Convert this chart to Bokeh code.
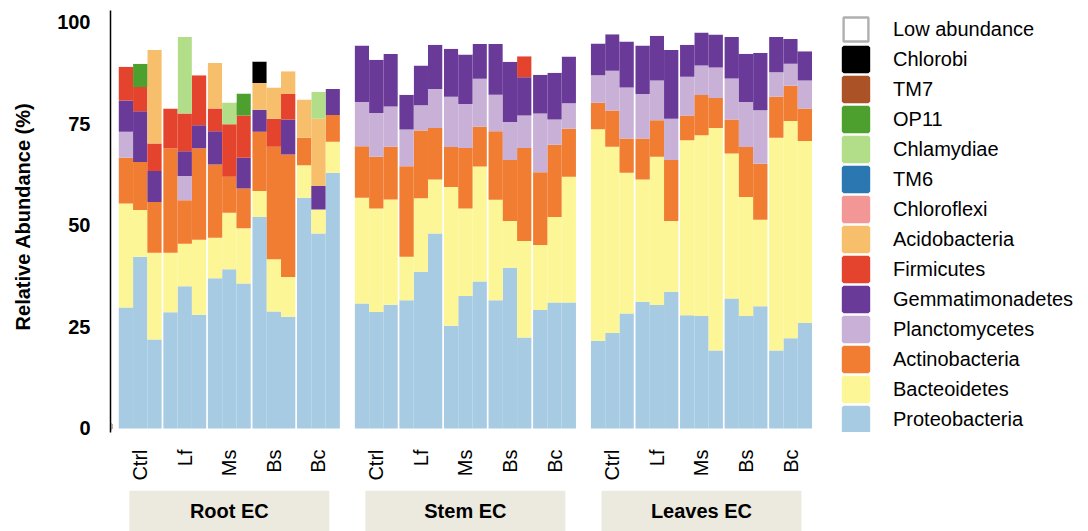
import math

from bokeh.core.properties import value
from bokeh.embed import file_html
from bokeh.layouts import column
from bokeh.models import ColumnDataSource, FixedTicker, Legend, LegendItem, Range1d
from bokeh.plotting import figure
from bokeh.resources import INLINE

# ---- data: relative abundance (%) per phylum, 45 bars = 3 tissues x 5 treatments x 3 replicates
groups = ["Root EC", "Stem EC", "Leaves EC"]
treatments = ["Ctrl", "Lf", "Ms", "Bs", "Bc"]
replicates = 3
y_ticks = [0, 25, 50, 75, 100]

proteobacteria = [
    29.8, 42.3, 21.9, 28.6, 35.0, 28.0, 37.0, 39.2, 35.7, 52.1, 28.8, 27.5, 56.8, 48.0, 63.0,
    30.8, 28.7, 30.5, 31.6, 38.6, 48.0, 25.3, 32.6, 36.2, 31.6, 39.6, 22.4, 29.2, 31.0, 31.0,
    21.6, 23.5, 28.3, 31.2, 30.4, 33.7, 27.9, 27.7, 19.2, 32.0, 27.7, 30.1, 19.2, 22.2, 26.0,
]
bacteroidetes = [
    25.6, 11.5, 21.4, 14.7, 10.5, 18.5, 10.0, 13.9, 13.6, 6.4, 12.9, 9.8, 8.0, 5.9, 7.6,
    26.0, 25.5, 25.9, 10.7, 18.1, 13.3, 34.2, 21.6, 28.3, 24.7, 11.5, 23.8, 16.0, 21.1, 31.0,
    52.1, 45.9, 34.7, 30.1, 36.5, 17.4, 43.1, 44.5, 54.8, 35.7, 29.3, 21.3, 52.4, 53.5, 44.8,
]
actinobacteria = [
    11.3, 11.8, 12.5, 25.7, 10.7, 22.5, 18.0, 8.9, 9.8, 14.6, 27.7, 30.2, 6.8, 0.0, 6.6,
    12.7, 12.7, 13.0, 22.3, 16.7, 12.7, 9.8, 14.9, 9.8, 16.9, 15.0, 22.9, 17.9, 17.8, 11.8,
    6.5, 8.9, 8.4, 10.1, 9.0, 15.0, 6.1, 9.9, 7.4, 8.4, 12.3, 13.8, 10.1, 8.7, 8.0,
]
planctomycetes = [
    6.4, 0.0, 0.0, 0.0, 6.0, 0.0, 0.0, 0.0, 0.0, 0.0, 0.0, 0.0, 0.0, 0.0, 0.0,
    10.9, 10.8, 9.9, 9.0, 6.2, 9.6, 12.4, 10.8, 11.8, 9.0, 9.4, 8.0, 14.5, 6.2, 6.3,
    6.8, 9.8, 12.6, 11.0, 9.8, 10.2, 9.5, 7.3, 7.5, 10.1, 11.1, 13.2, 6.0, 5.4, 6.9,
]
gemmatimonadetes = [
    7.7, 12.5, 7.6, 0.0, 6.1, 5.7, 8.2, 0.0, 7.6, 5.4, 0.0, 8.6, 0.0, 5.8, 6.4,
    13.9, 13.1, 12.9, 8.6, 9.8, 10.9, 11.8, 12.2, 8.6, 12.5, 14.8, 9.4, 9.5, 11.5, 11.5,
    7.8, 9.0, 11.3, 11.9, 11.0, 16.9, 7.9, 8.1, 8.1, 10.2, 11.9, 14.1, 8.7, 6.1, 7.2,
]
firmicutes = [
    8.3, 6.0, 6.8, 9.8, 9.3, 12.3, 5.6, 12.9, 10.4, 0.0, 6.9, 6.3, 0.0, 0.0, 0.0,
    0.0, 0.0, 0.0, 0.0, 0.0, 0.0, 0.0, 0.0, 0.0, 0.0, 0.0, 5.2, 0.0, 0.0, 0.0,
    0.0, 0.0, 0.0, 0.0, 0.0, 0.0, 0.0, 0.0, 0.0, 0.0, 0.0, 0.0, 0.0, 0.0, 0.0,
]
acidobacteria = [
    0.0, 0.0, 23.0, 0.0, 0.0, 0.0, 11.2, 0.0, 0.0, 6.6, 7.7, 5.6, 9.4, 16.6, 0.0,
    0.0, 0.0, 0.0, 0.0, 0.0, 0.0, 0.0, 0.0, 0.0, 0.0, 0.0, 0.0, 0.0, 0.0, 0.0,
    0.0, 0.0, 0.0, 0.0, 0.0, 0.0, 0.0, 0.0, 0.0, 0.0, 0.0, 0.0, 0.0, 0.0, 0.0,
]
chloroflexi = [0.0] * 45
tm6 = [0.0] * 45
chlamydiae = [
    0.0, 0.0, 0.0, 0.0, 18.8, 0.0, 0.0, 5.4, 0.0, 0.0, 0.0, 0.0, 0.0, 6.6, 0.0,
    0.0, 0.0, 0.0, 0.0, 0.0, 0.0, 0.0, 0.0, 0.0, 0.0, 0.0, 0.0, 0.0, 0.0, 0.0,
    0.0, 0.0, 0.0, 0.0, 0.0, 0.0, 0.0, 0.0, 0.0, 0.0, 0.0, 0.0, 0.0, 0.0, 0.0,
]
op11 = [
    0.0, 5.7, 0.0, 0.0, 0.0, 0.0, 0.0, 0.0, 5.4, 0.0, 0.0, 0.0, 0.0, 0.0, 0.0,
    0.0, 0.0, 0.0, 0.0, 0.0, 0.0, 0.0, 0.0, 0.0, 0.0, 0.0, 0.0, 0.0, 0.0, 0.0,
    0.0, 0.0, 0.0, 0.0, 0.0, 0.0, 0.0, 0.0, 0.0, 0.0, 0.0, 0.0, 0.0, 0.0, 0.0,
]
tm7 = [0.0] * 45
chlorobi = [
    0.0, 0.0, 0.0, 0.0, 0.0, 0.0, 0.0, 0.0, 0.0, 5.3, 0.0, 0.0, 0.0, 0.0, 0.0,
    0.0, 0.0, 0.0, 0.0, 0.0, 0.0, 0.0, 0.0, 0.0, 0.0, 0.0, 0.0, 0.0, 0.0, 0.0,
    0.0, 0.0, 0.0, 0.0, 0.0, 0.0, 0.0, 0.0, 0.0, 0.0, 0.0, 0.0, 0.0, 0.0, 0.0,
]

# stacking order, bottom to top
phyla = [
    ("Proteobacteria", proteobacteria, "#a6cbe3"),
    ("Bacteoidetes", bacteroidetes, "#fcf696"),
    ("Actinobacteria", actinobacteria, "#f07d32"),
    ("Planctomycetes", planctomycetes, "#c9b0d6"),
    ("Gemmatimonadetes", gemmatimonadetes, "#6a3a99"),
    ("Firmicutes", firmicutes, "#e4432d"),
    ("Acidobacteria", acidobacteria, "#f7be6c"),
    ("Chloroflexi", chloroflexi, "#f29696"),
    ("TM6", tm6, "#2a77b1"),
    ("Chlamydiae", chlamydiae, "#b2de8a"),
    ("OP11", op11, "#4ea02e"),
    ("TM7", tm7, "#ab5327"),
    ("Chlorobi", chlorobi, "#000000"),
]
# whatever is not assigned to a listed phylum is the low-abundance remainder
low_abundance = [round(100 - sum(p[1][i] for p in phyla), 1) for i in range(45)]
phyla.append(("Low abundance", low_abundance, "#ffffff"))

# ---- bar positions: replicates touch, thin gaps between treatments, wider gaps between tissues
BAR_W = 1.0
SEP = 0.12
GAP = 1.05
n_t = len(treatments)
group_w = n_t * replicates * BAR_W + (n_t - 1) * SEP

xs, tick_pos, tick_lab, group_lo, group_hi = [], [], {}, [], []
for g in range(len(groups)):
    g0 = g * (group_w + GAP)
    group_lo.append(g0)
    group_hi.append(g0 + group_w)
    for t, name in enumerate(treatments):
        t0 = g0 + t * (replicates * BAR_W + SEP)
        for r in range(replicates):
            xs.append(t0 + (r + 0.5) * BAR_W)
        c = round(t0 + replicates * BAR_W / 2, 3)
        tick_pos.append(c)
        tick_lab[c] = name

data = {"x": xs}
for name, vals, _ in phyla:
    data[name] = vals
src = ColumnDataSource(data)

FONT = "Liberation Sans"
x_range = Range1d(-0.58, 67.9)

p = figure(
    width=1088, height=490, x_range=x_range, y_range=Range1d(-0.99, 105.4),
    toolbar_location=None, output_backend="svg",
    min_border_left=110, min_border_right=0, min_border_top=0, min_border_bottom=58,
)
p.outline_line_color = None
p.xgrid.visible = False
p.ygrid.visible = False

names = [n for n, _, _ in phyla]
colors = [c for _, _, c in phyla]
renderers = p.vbar_stack(names, x="x", width=BAR_W, fill_color=colors,
                         line_color=None, source=src)

# y axis
p.yaxis.ticker = FixedTicker(ticks=y_ticks, minor_ticks=[])
p.yaxis.bounds = (-1, 103)
p.yaxis.axis_line_color = "black"
p.yaxis.axis_line_width = 1.5
p.yaxis.major_tick_out = 0
p.yaxis.major_tick_in = 0
p.yaxis.minor_tick_out = 0
p.yaxis.minor_tick_in = 0
p.yaxis.major_label_standoff = 20
p.yaxis.major_label_text_font = FONT
p.yaxis.major_label_text_font_style = "bold"
p.yaxis.major_label_text_font_size = "20px"
p.yaxis.major_label_text_color = "black"
p.yaxis.axis_label = "Relative Abundance (%)"
p.yaxis.axis_label_standoff = 20
p.yaxis.axis_label_text_font = FONT
p.yaxis.axis_label_text_font_style = "bold"
p.yaxis.axis_label_text_font_size = "20px"
p.yaxis.axis_label_text_color = "black"

# x axis: treatment names under each triplet, written vertically
p.xaxis.ticker = FixedTicker(ticks=tick_pos, minor_ticks=[])
p.xaxis.major_label_overrides = tick_lab
p.xaxis.major_label_orientation = math.pi / 2
p.xaxis.axis_line_color = None
p.xaxis.major_tick_out = 0
p.xaxis.major_tick_in = 0
p.xaxis.minor_tick_out = 0
p.xaxis.minor_tick_in = 0
p.xaxis.major_label_standoff = 17
p.xaxis.major_label_text_font = FONT
p.xaxis.major_label_text_font_size = "20px"
p.xaxis.major_label_text_color = "black"

# legend swatches (top entry first): one off-screen bar each, whose outline
# widens the swatch drawn in the legend
swatch_x = [-50.0]
items = []
for name, _, col in reversed(phyla):
    if name == "Low abundance":
        sw = p.vbar(x=swatch_x, top=[1.0], width=1, fill_color="white",
                    line_color="#b0b0b0", line_width=2.4)
    else:
        sw = p.vbar(x=swatch_x, top=[1.0], width=1, fill_color=col,
                    line_color=col, line_width=3.6)
    items.append(LegendItem(label=name, renderers=[sw], index=0))

legend = Legend(
    items=items, location=(730, -2), orientation="vertical",
    glyph_width=31, glyph_height=30, spacing=0, padding=0, margin=0,
    border_line_color=None, background_fill_alpha=0,
    label_standoff=22, label_text_font=FONT, label_text_font_size="20px",
    label_text_color="black", label_text_baseline="alphabetic",
)
p.add_layout(legend)

# tissue labels on shaded bands underneath
b = figure(
    width=1088, height=41, x_range=x_range, y_range=Range1d(0, 1),
    x_axis_type=None, y_axis_type=None, toolbar_location=None, output_backend="svg",
    min_border_left=110, min_border_right=0, min_border_top=0, min_border_bottom=0,
)
b.outline_line_color = None
inset = 0.74
b.quad(left=[lo + inset for lo in group_lo], right=[hi - inset for hi in group_hi],
       bottom=0, top=1, fill_color="#ece9de", line_color=None)
b.text(x=[(lo + hi) / 2 for lo, hi in zip(group_lo, group_hi)], y=[0.5] * len(groups),
       text=groups, text_align="center", text_baseline="middle",
       text_font=value(FONT), text_font_style="bold", text_font_size="20px",
       text_color="black")

layout = column(p, b, spacing=0)
open("out.html", "w").write(file_html(layout, INLINE))
